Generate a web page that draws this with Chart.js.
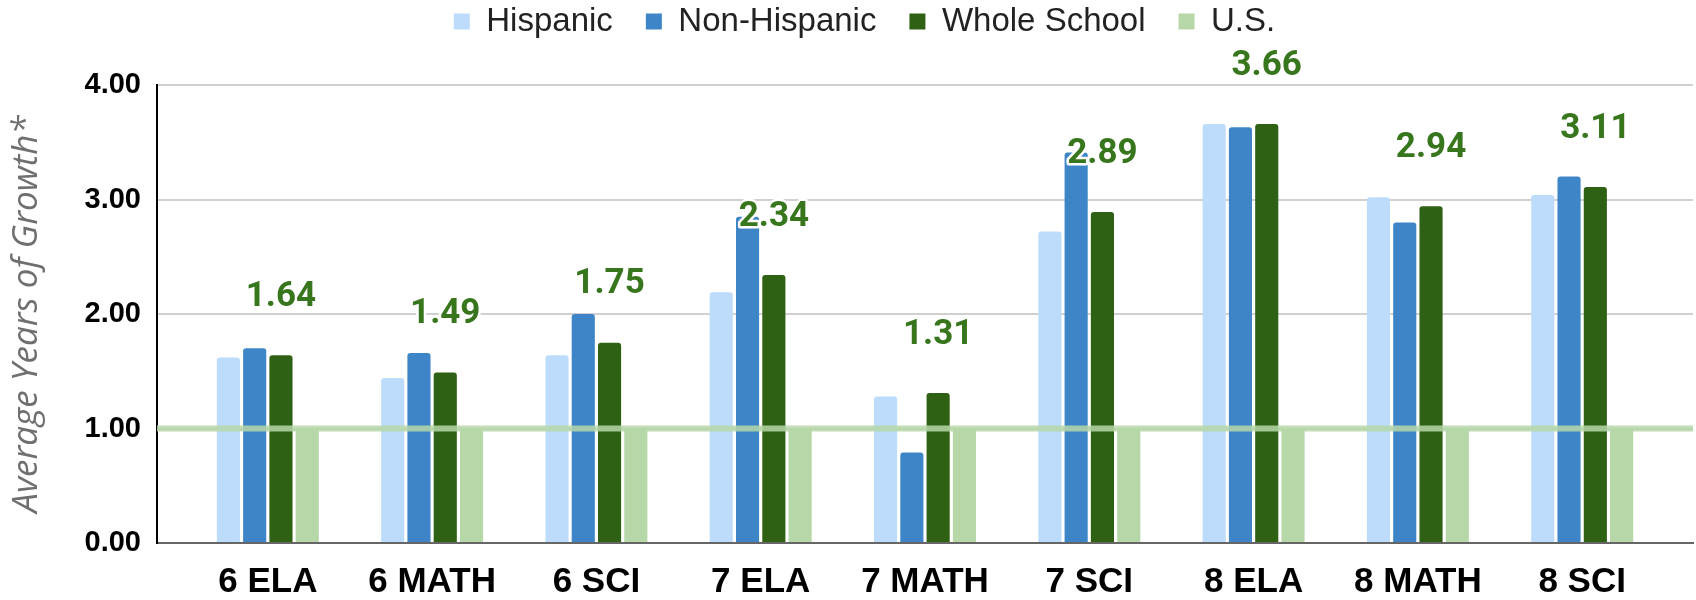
<!DOCTYPE html>
<html>
<head>
<meta charset="utf-8">
<title>Average Years of Growth</title>
<script src="https://cdn.jsdelivr.net/npm/chart.js@4.4.1/dist/chart.umd.min.js"></script>
<style>
  html, body { margin: 0; padding: 0; background: #ffffff; }
  #wrap { position: relative; width: 1696px; height: 600px; }
</style>
</head>
<body>
<div id="wrap"><canvas id="growthChart"></canvas></div>
<script>
const categories = ['6 ELA', '6 MATH', '6 SCI', '7 ELA', '7 MATH', '7 SCI', '8 ELA', '8 MATH', '8 SCI'];
const seriesNames = ['Hispanic', 'Non-Hispanic', 'Whole School', 'U.S.'];
const hispanic = [1.62, 1.44, 1.64, 2.19, 1.28, 2.72, 3.66, 3.02, 3.04];
const nonHispanic = [1.70, 1.66, 2.00, 2.85, 0.79, 3.41, 3.63, 2.80, 3.20];
const wholeSchool = [1.64, 1.49, 1.75, 2.34, 1.31, 2.89, 3.66, 2.94, 3.11];
const us = [1, 1, 1, 1, 1, 1, 1, 1, 1];
const usLevel = 1.0;
const yTicks = [0, 1, 2, 3, 4];

const colors = ['#bddcfb', '#3d85c6', '#2e6114', '#b6d7a8'];

// extra space at both ends of the category axis (in categories)
const edgePad = 0.1745;

// legend keeps a fixed block above the plot, nudged a bit right
const legendHeight = {
  id: 'legendHeight',
  beforeInit(chart) {
    const fit = chart.legend.fit;
    chart.legend.fit = function () {
      fit.call(this);
      this.height = 113;
    };
  },
  afterLayout(chart) {
    chart.legend.left += 18;
    chart.legend.right += 18;
  }
};

// light green U.S. reference line across the whole plot
const usLine = {
  id: 'usLine',
  afterDatasetsDraw(chart) {
    const { ctx, chartArea, scales } = chart;
    const y = scales.y.getPixelForValue(usLevel);
    ctx.save();
    ctx.strokeStyle = 'rgba(182, 215, 168, 0.85)';
    ctx.lineWidth = 6;
    ctx.beginPath();
    ctx.moveTo(chartArea.left, y);
    ctx.lineTo(chartArea.right, y);
    ctx.stroke();
    ctx.restore();
  }
};

// value labels above the Whole School bars
const wholeSchoolLabels = {
  id: 'wholeSchoolLabels',
  afterDatasetsDraw(chart) {
    const { ctx } = chart;
    const meta = chart.getDatasetMeta(2);
    ctx.save();
    ctx.font = 'bold 35px Roboto';
    ctx.textAlign = 'center';
    ctx.textBaseline = 'middle';
    ctx.lineJoin = 'round';
    ctx.lineWidth = 5;
    ctx.strokeStyle = '#ffffff';
    ctx.fillStyle = '#38761d';
    meta.data.forEach((bar, i) => {
      const text = wholeSchool[i].toFixed(2);
      ctx.strokeText(text, bar.x, bar.y - 58);
      ctx.fillText(text, bar.x, bar.y - 58);
    });
    ctx.restore();
  }
};

const seriesData = [hispanic, nonHispanic, wholeSchool, us];

new Chart(document.getElementById('growthChart'), {
  type: 'bar',
  data: {
    labels: categories,
    datasets: seriesNames.map((name, i) => ({
      label: name,
      data: seriesData[i],
      backgroundColor: colors[i],
      borderWidth: 0,
      borderRadius: 3,
      categoryPercentage: 0.64,
      barPercentage: 0.88
    }))
  },
  options: {
    responsive: true,
    maintainAspectRatio: false,
    animation: false,
    layout: { padding: { top: -28, left: 0, right: 3, bottom: 0 } },
    plugins: {
      legend: {
        position: 'top',
        labels: {
          boxWidth: 16,
          boxHeight: 16,
          padding: 33,
          color: '#222222',
          font: { family: 'Liberation Sans', size: 33 }
        }
      },
      tooltip: { enabled: false }
    },
    scales: {
      x: {
        afterBuildTicks(scale) {
          scale._startValue -= edgePad;
          scale._valueRange += 2 * edgePad;
        },
        afterFit(scale) {
          scale.height = 57;
        },
        grid: { display: false, drawTicks: false },
        border: { display: true, color: '#666666', width: 2 },
        ticks: {
          color: '#000000',
          padding: 18,
          maxRotation: 0,
          font: { family: 'Liberation Sans', size: 35, weight: 'bold' }
        }
      },
      y: {
        min: 0,
        max: 4,
        afterBuildTicks(scale) {
          scale.ticks = yTicks.map(v => ({ value: v }));
        },
        afterFit(scale) {
          scale.width = 157;
        },
        grid: { color: '#d0d0d0', lineWidth: 2, drawTicks: false },
        border: { display: true, color: '#000000', width: 2 },
        ticks: {
          color: '#000000',
          padding: 16,
          font: { family: 'Liberation Sans', size: 29, weight: 'bold' },
          callback: v => Number(v).toFixed(2)
        },
        title: {
          display: true,
          text: 'Average Years of Growth*',
          color: '#6f6f6f',
          padding: { top: 6, bottom: 0 },
          font: { family: 'Open Sans', size: 35, style: 'italic' }
        }
      }
    }
  },
  plugins: [legendHeight, usLine, wholeSchoolLabels]
});
</script>
</body>
</html>
